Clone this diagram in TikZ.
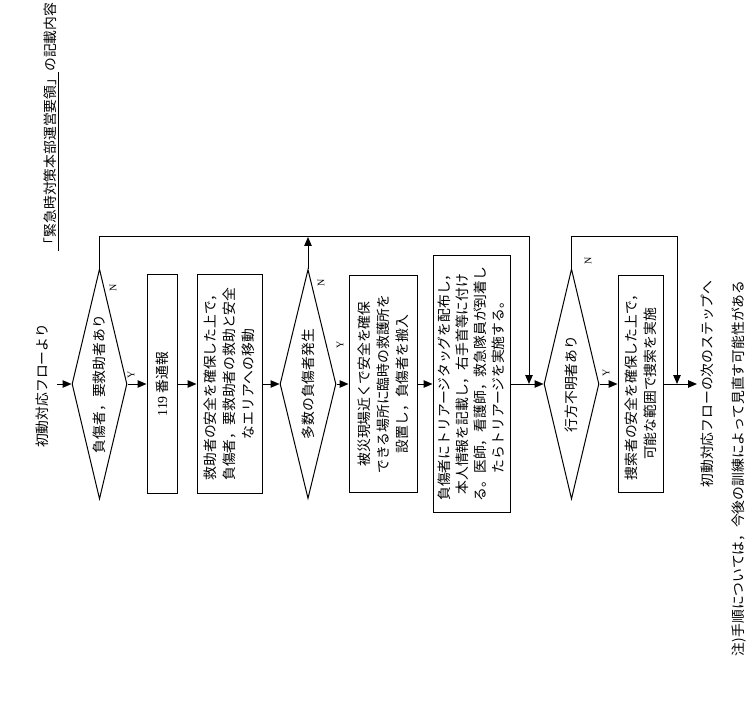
\documentclass[tikz,border=0pt]{standalone}
\usepackage{fontspec}
\setmainfont{Liberation Serif}
\newfontfamily\jp{Noto Sans CJK JP}
\usetikzlibrary{shapes.geometric,arrows.meta}
\begin{document}
\begin{tikzpicture}[x=1pt,y=-1pt,
  every node/.style={rotate=90},
  jt/.style={font=\jp\fontsize{13.8}{19}\selectfont},
  box/.style={draw, line width=1pt, jt, align=center, inner sep=0pt},
  dec/.style={draw, line width=1pt, diamond, jt, inner sep=0pt, aspect=4.2},
  yn/.style={font=\fontsize{10}{10}\selectfont, inner sep=0pt},
  arr/.style={line width=1pt, -{Triangle[length=9pt,width=7.5pt]}}
]
\useasboundingbox (0,0) rectangle (755,711);

\node[jt] (title) at (51,127) {\underline{「緊急時対策本部運営要領」}の記載内容};
\node[jt] (from) at (42,386) {初動対応フローより};

\node[dec, minimum width=230pt, minimum height=55pt] (d1) at (99.5,384) {負傷者，要救助者あり};
\node[box, minimum width=218pt, minimum height=30pt] (b1) at (162,384) {{\rmfamily 119} 番通報};
\node[box, minimum width=218pt, minimum height=65pt] (b2) at (229.5,384) {救助者の安全を確保した上で，\\負傷者，要救助者の救助と安全\\なエリアへの移動};
\node[dec, minimum width=229pt, minimum height=56pt] (d2) at (308,384) {多数の負傷者発生};
\node[box, minimum width=217pt, minimum height=68pt] (b3) at (383,384) {被災現場近くで安全を確保\\できる場所に臨時の救護所を\\設置し，負傷者を搬入};
\node[box, minimum width=256pt, minimum height=77pt, font=\jp\fontsize{13.8}{18}\selectfont] (b4) at (471.5,384) {負傷者にトリアージタッグを配布し，\\本人情報を記載し，右手首等に付け\\る。医師，看護師，救急隊員が到着し\\たらトリアージを実施する。};
\node[dec, minimum width=230pt, minimum height=55pt] (d3) at (571.5,384) {行方不明者あり};
\node[box, minimum width=217pt, minimum height=45pt] (b5) at (640.5,384) {捜索者の安全を確保した上で，\\可能な範囲で捜索を実施};
\node[jt] (to) at (707,384) {初動対応フローの次のステップへ};
\node[jt, anchor=east] (note) at (739,277) {注)手順については，今後の訓練によって見直す可能性がある};

\node[yn] (y1) at (131,375) {Y};
\node[yn] (n1) at (113,288) {N};
\node[yn] (y2) at (340,345) {Y};
\node[yn] (n2) at (321,283) {N};
\node[yn] (y3) at (606,373) {Y};
\node[yn] (n3) at (588,261) {N};

\coordinate (s0) at (57,384);
\coordinate (e0) at (697,384);
\coordinate (c1) at (529,237);
\coordinate (j1) at (529,384);
\coordinate (c2) at (677,237);
\coordinate (j2) at (677,384);

\draw[arr] (s0) -- (d1);
\draw[arr] (d1) -- (b1);
\draw[arr] (b1) -- (b2);
\draw[arr] (b2) -- (d2);
\draw[arr] (d2) -- (b3);
\draw[arr] (b3) -- (b4);
\draw[arr] (b4) -- (d3);
\draw[arr] (d3) -- (b5);
\draw[arr] (b5) -- (e0);
\draw[arr] (d1.east) |- (c1) -- (j1);
\draw[arr] (d2.east) -- (d2.east |- c1);
\draw[arr] (d3.east) |- (c2) -- (j2);
\end{tikzpicture}
\end{document}
